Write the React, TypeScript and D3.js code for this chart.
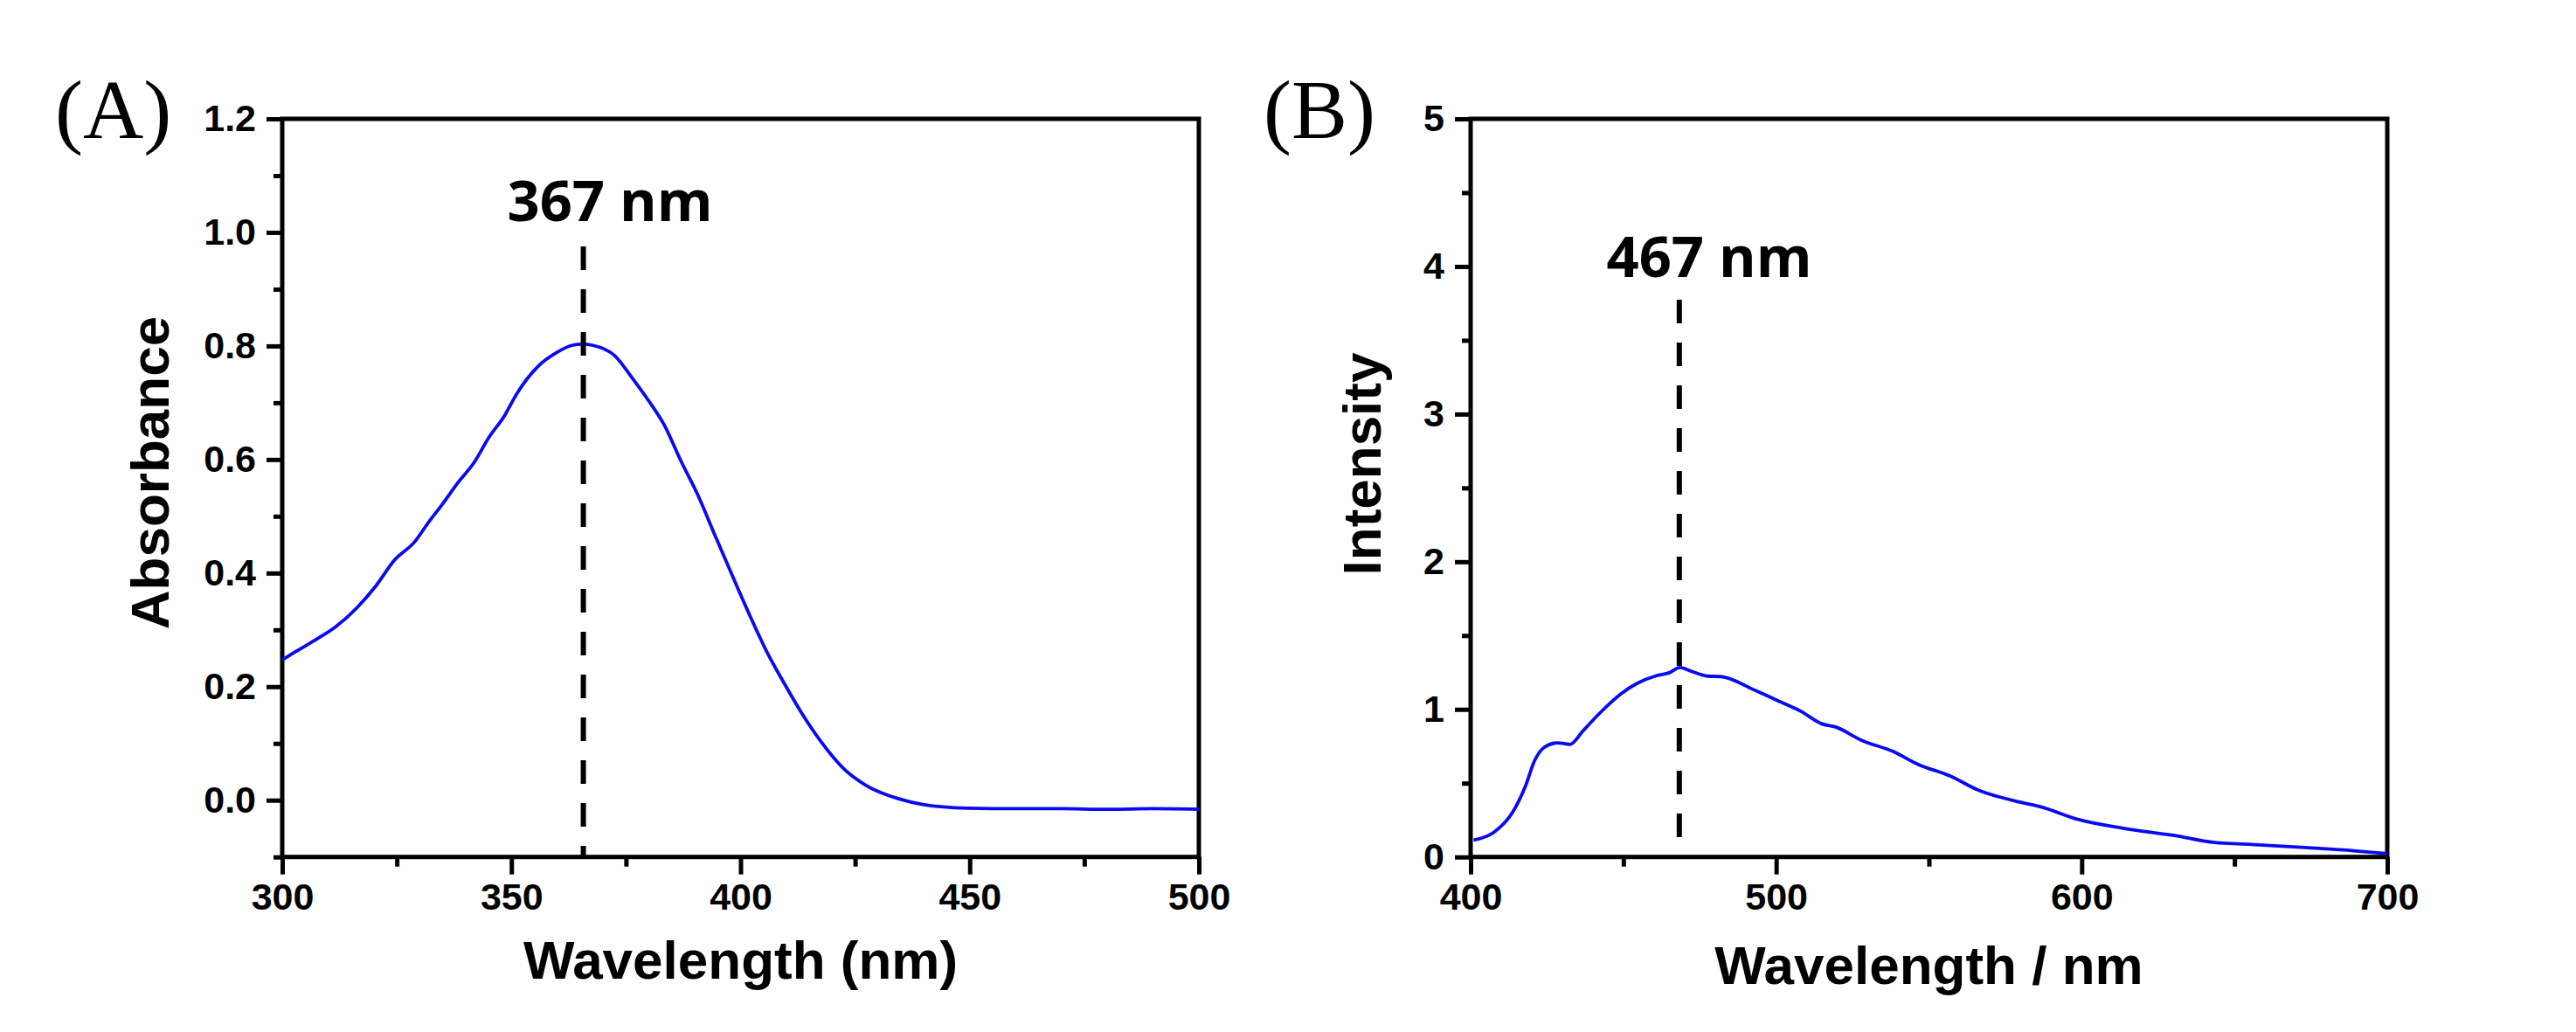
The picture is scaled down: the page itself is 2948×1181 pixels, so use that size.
import * as d3 from 'd3';
import React, { useEffect, useRef } from 'react';

// (A) absorption spectrum
const absWavelength = [
  300, 303, 307.6, 311.6, 316.3, 320.4, 324.4, 329, 331.7, 335, 338.4, 341.8, 345.1, 348.5, 351.1,
  355.8, 359.8, 363.2, 365.5, 367.8, 372.5, 376.5, 379.9, 383.2, 387.2, 390.6, 394.6, 398.6, 402.6,
  406, 409.3, 413.3, 417.3, 422.7, 427.4, 434.7, 440, 449.4, 460, 469.5, 480, 490, 500,
];
const absValue = [
  0.247, 0.262, 0.284, 0.305, 0.339, 0.377, 0.422, 0.456, 0.487, 0.522, 0.56, 0.594, 0.639, 0.677,
  0.715, 0.764, 0.788, 0.801, 0.803, 0.801, 0.783, 0.742, 0.704, 0.663, 0.594, 0.539, 0.463, 0.388,
  0.315, 0.257, 0.209, 0.154, 0.106, 0.054, 0.026, 0.002, -0.008, -0.014, -0.015, -0.015, -0.016,
  -0.015, -0.016,
];

// (B) emission spectrum
const flWavelength = [
  401, 407.4, 413.7, 417.9, 421, 424.2, 428.4, 432.5, 436.7, 442, 449.3, 454.5, 460.8, 465, 468.5,
  472, 477.6, 481.8, 493.3, 500.6, 507.9, 515.2, 519.4, 527.8, 538.3, 546.6, 557.1, 565.5, 580.1,
  586.4, 599, 613.6, 630.4, 643, 655.5, 674.3, 689, 700,
];
const flIntensity = [
  0.115, 0.164, 0.301, 0.478, 0.655, 0.744, 0.773, 0.763, 0.852, 0.969, 1.107, 1.176, 1.228, 1.248,
  1.284, 1.26, 1.225, 1.222, 1.127, 1.058, 0.989, 0.9, 0.881, 0.792, 0.714, 0.626, 0.547, 0.459,
  0.37, 0.341, 0.253, 0.194, 0.145, 0.099, 0.085, 0.062, 0.042, 0.022,
];

const absXTicks = [300, 350, 400, 450, 500];
const absXMinor = [325, 375, 425, 475];
const absYTicks = [0, 0.2, 0.4, 0.6, 0.8, 1.0, 1.2];
const absYMinor = [-0.1, 0.1, 0.3, 0.5, 0.7, 0.9, 1.1];

const flXTicks = [400, 500, 600, 700];
const flXMinor = [450, 550, 650];
const flYTicks = [0, 1, 2, 3, 4, 5];
const flYMinor = [0.5, 1.5, 2.5, 3.5, 4.5];

const panelLetters = ['(A)', '(B)'];
const xTitles = ['Wavelength (nm)', 'Wavelength / nm'];
const yTitles = ['Absorbance', 'Intensity'];
const peakLabels = ['367 nm', '467 nm'];
const peakAt = [365.7, 468.3];

const W = 2948;
const H = 1181;
const boldSans = "'Liberation Sans', Arial, sans-serif";

const panels = [
  {
    letter: panelLetters[0],
    xs: absWavelength,
    ys: absValue,
    xDomain: [300, 500],
    yDomain: [-0.1, 1.2],
    xTicks: absXTicks,
    xMinor: absXMinor,
    yTicks: absYTicks,
    yMinor: absYMinor,
    yFormat: d3.format('.1f'),
    xTitle: xTitles[0],
    yTitle: yTitles[0],
    peak: peakAt[0],
    peakLabel: peakLabels[0],
    left: 323,
    right: 1372,
    dashTop: 282,
    dashBottom: 980.7,
    labelX: 698,
    labelY: 253,
    letterX: 63,
    yTitleX: 193,
    yTitleY: 541,
    xTitleY: 1120,
  },
  {
    letter: panelLetters[1],
    xs: flWavelength,
    ys: flIntensity,
    xDomain: [400, 700],
    yDomain: [0, 5],
    xTicks: flXTicks,
    xMinor: flXMinor,
    yTicks: flYTicks,
    yMinor: flYMinor,
    yFormat: d3.format('d'),
    xTitle: xTitles[1],
    yTitle: yTitles[1],
    peak: peakAt[1],
    peakLabel: peakLabels[1],
    left: 1683,
    right: 2732,
    dashTop: 343,
    dashBottom: 958,
    labelX: 1956,
    labelY: 317,
    letterX: 1446,
    yTitleX: 1580,
    yTitleY: 531,
    xTitleY: 1126,
  },
];

const top = 136;
const bottom = 980.7;

const App: React.FC = () => {
  const ref = useRef<SVGSVGElement>(null);

  useEffect(() => {
    if (!ref.current) return;
    const svg = d3.select(ref.current);
    svg.selectAll('*').remove();

    panels.forEach((p) => {
      const x = d3.scaleLinear().domain(p.xDomain).range([p.left, p.right]);
      const y = d3.scaleLinear().domain(p.yDomain).range([bottom, top]);
      const g = svg.append('g');

      const styleAxis = (sel: any) => {
        sel.select('.domain').remove();
        sel.selectAll('line').attr('stroke', '#000').attr('stroke-width', 5);
        sel
          .selectAll('text')
          .attr('fill', '#000')
          .style('font-family', boldSans)
          .style('font-weight', 'bold')
          .style('font-size', '43px');
      };

      // x axis, major + minor
      g.append('g')
        .attr('transform', `translate(0,${bottom})`)
        .call(d3.axisBottom(x).tickValues(p.xTicks).tickSize(20).tickPadding(10).tickFormat(d3.format('d')))
        .call(styleAxis);
      g.append('g')
        .attr('transform', `translate(0,${bottom})`)
        .call(d3.axisBottom(x).tickValues(p.xMinor).tickSize(11).tickFormat(() => ''))
        .call(styleAxis);

      // y axis, major + minor
      g.append('g')
        .attr('transform', `translate(${p.left},0)`)
        .call(d3.axisLeft(y).tickValues(p.yTicks).tickSize(18).tickPadding(12).tickFormat(p.yFormat as any))
        .call(styleAxis);
      g.append('g')
        .attr('transform', `translate(${p.left},0)`)
        .call(d3.axisLeft(y).tickValues(p.yMinor).tickSize(10).tickFormat(() => ''))
        .call(styleAxis);

      // frame
      g.append('rect')
        .attr('x', p.left)
        .attr('y', top)
        .attr('width', p.right - p.left)
        .attr('height', bottom - top)
        .attr('fill', 'none')
        .attr('stroke', '#000')
        .attr('stroke-width', 5);

      // spectrum
      const pts = p.xs.map((v, i) => [v, p.ys[i]] as [number, number]);
      const line = d3
        .line<[number, number]>()
        .x((d) => x(d[0]))
        .y((d) => y(d[1]))
        .curve(d3.curveMonotoneX);
      g.append('path')
        .attr('d', line(pts) as string)
        .attr('fill', 'none')
        .attr('stroke', '#0a0af0')
        .attr('stroke-width', 3.8)
        .attr('stroke-linejoin', 'round');

      // peak marker
      g.append('line')
        .attr('x1', x(p.peak))
        .attr('x2', x(p.peak))
        .attr('y1', p.dashTop)
        .attr('y2', p.dashBottom)
        .attr('stroke', '#000')
        .attr('stroke-width', 6)
        .attr('stroke-dasharray', '27 22');

      g.append('text')
        .attr('x', p.labelX)
        .attr('y', p.labelY)
        .attr('text-anchor', 'middle')
        .style('font-family', "'Open Sans', 'Noto Sans', sans-serif")
        .style('font-weight', 'bold')
        .style('font-size', '65px')
        .text(p.peakLabel);

      // titles
      g.append('text')
        .attr('x', (p.left + p.right) / 2)
        .attr('y', p.xTitleY)
        .attr('text-anchor', 'middle')
        .style('font-family', boldSans)
        .style('font-weight', 'bold')
        .style('font-size', '62px')
        .text(p.xTitle);

      g.append('text')
        .attr('transform', `translate(${p.yTitleX},${p.yTitleY}) rotate(-90)`)
        .attr('text-anchor', 'middle')
        .style('font-family', boldSans)
        .style('font-weight', 'bold')
        .style('font-size', '62px')
        .text(p.yTitle);

      g.append('text')
        .attr('x', p.letterX)
        .attr('y', 158)
        .style('font-family', "'Liberation Serif', 'Times New Roman', serif")
        .style('font-size', '96px')
        .text(p.letter);
    });
  }, []);

  return (
    <svg
      ref={ref}
      width={W}
      height={H}
      viewBox={`0 0 ${W} ${H}`}
      style={{ position: 'absolute', left: 0, top: 0, background: '#fff' }}
    ></svg>
  );
};

export default App;
